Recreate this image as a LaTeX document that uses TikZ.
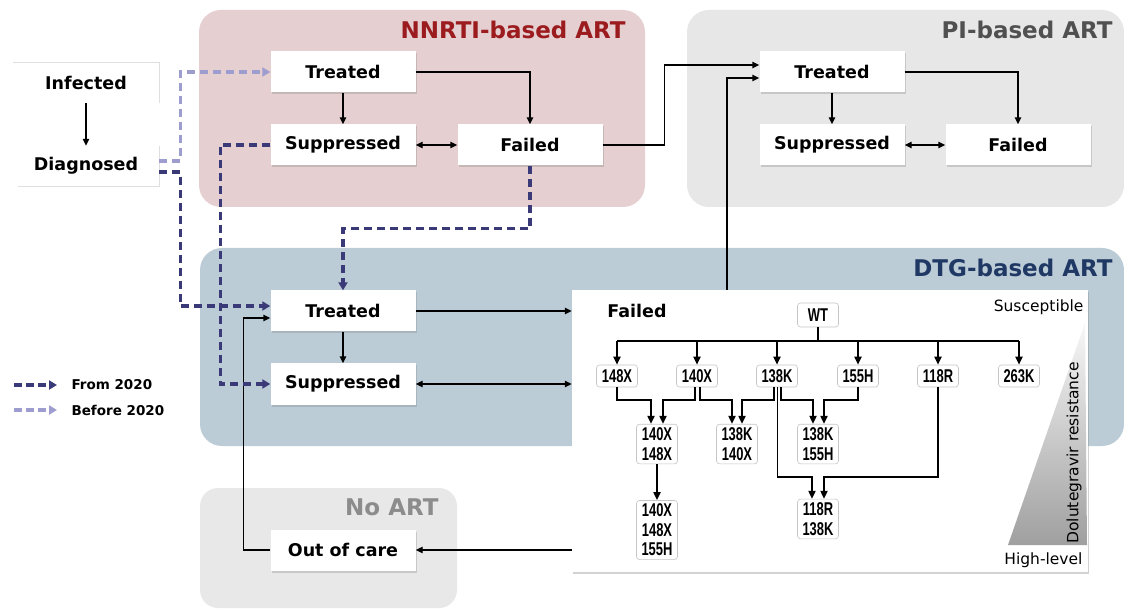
\documentclass[tikz,border=0pt]{standalone}
\usepackage{fontspec}
\setmainfont{DejaVu Sans}
\newfontfamily\condfont[FakeStretch=0.7]{Liberation Sans}
\usetikzlibrary{arrows.meta,shadows,calc}
\definecolor{nnrtibg}{HTML}{E5CFD0}
\definecolor{nnrtitx}{HTML}{9B1B1E}
\definecolor{pibg}{HTML}{E7E7E7}
\definecolor{pitx}{HTML}{505050}
\definecolor{dtgbg}{HTML}{BCCCD7}
\definecolor{dtgtx}{HTML}{1F3864}
\definecolor{noartbg}{HTML}{E8E8E8}
\definecolor{noarttx}{HTML}{8C8C8C}
\definecolor{dashdk}{HTML}{3B3A78}
\definecolor{dashlt}{HTML}{9E9DD0}
\begin{document}
\begin{tikzpicture}[x=1pt,y=-1pt,
  box/.style={fill=white, minimum width=145pt, minimum height=41pt, inner sep=0pt,
    font=\fontsize{17.5}{20}\selectfont\bfseries,
    drop shadow={opacity=0.3,shadow xshift=1pt,shadow yshift=-2pt}},
  plain/.style={minimum width=146pt, minimum height=40pt, inner sep=0pt,
    font=\fontsize{17.5}{20}\selectfont\bfseries},
  mut/.style={draw=gray!45, line width=0.6pt, fill=white, rounded corners=3pt,
    minimum width=41pt, minimum height=22pt, inner xsep=1.5pt, inner ysep=3.5pt, align=center,
    font=\condfont\bfseries\fontsize{18.5}{19.5}\selectfont},
  paneltitle/.style={anchor=east, font=\fontsize{23}{26}\selectfont\bfseries},
  arr/.style={line width=1.4pt, -{Triangle[length=7pt,width=6.5pt]}},
  darr/.style={line width=1.4pt, {Triangle[length=7pt,width=6.5pt]}-{Triangle[length=7pt,width=6.5pt]}},
  tarr/.style={line width=1.8pt, -{Triangle[length=8pt,width=7pt]}},
  tline/.style={line width=1.8pt},
  dashdark/.style={draw=dashdk, line width=3.2pt, dash pattern=on 8pt off 5pt, -{Triangle[length=8pt,width=9pt]}},
  dashlight/.style={draw=dashlt, line width=3.2pt, dash pattern=on 8pt off 5pt, -{Triangle[length=8pt,width=9pt]}},
  edge/.style={draw=gray!25, line width=1pt}
]
\useasboundingbox (0,0) rectangle (1124,609);
\fill[white] (0,0) rectangle (1124,609);

% panels
\fill[nnrtibg, rounded corners=22pt] (199,10) rectangle (645,207);
\fill[pibg, rounded corners=22pt] (687,10) rectangle (1124,207);
\fill[dtgbg, rounded corners=22pt] (200,248) rectangle (1124,446);
\fill[noartbg, rounded corners=18pt] (200,488) rectangle (457,608);

\node[paneltitle, text=nnrtitx] (tn) at (629,30) {NNRTI-based ART};
\node[paneltitle, text=pitx] (tp) at (1116,30) {PI-based ART};
\node[paneltitle, text=dtgtx] (td) at (1116,268) {DTG-based ART};
\node[paneltitle, text=noarttx] (tna) at (442,507) {No ART};

% Infected / Diagnosed
\node[plain] (inf) at (86,83) {Infected};
\node[plain] (diag) at (86,166) {Diagnosed};
\draw[edge] (inf.north west) -- (inf.north east) -- (inf.south east);
\draw[edge] (diag.north east) -- (diag.south east) -- ([xshift=5pt]diag.south west);
\draw[arr] (inf) -- (diag);

% NNRTI
\node[box] (nT) at (343,72) {Treated};
\node[box] (nS) at (343,145) {Suppressed};
\node[box] (nF) at (530,145) {Failed};
% PI
\node[box] (pT) at (832,72) {Treated};
\node[box] (pS) at (832,145) {Suppressed};
\node[box] (pF) at (1018,145) {Failed};
% DTG
\node[box] (dT) at (343,311) {Treated};
\node[box] (dS) at (343,384) {Suppressed};
% No ART
\node[box] (oc) at (343,550) {Out of care};

% big failed panel
\node[fill=white, minimum width=516pt, minimum height=282pt, inner sep=0pt,
  drop shadow={opacity=0.35,shadow xshift=1pt,shadow yshift=-2pt}] (fp) at (830,431) {};
\node[font=\fontsize{17.5}{20}\selectfont\bfseries] (fl) at (637,311) {Failed};
\node[anchor=east, font=\fontsize{15.5}{18}\selectfont] (sus) at (1087,307) {Susceptible};
\node[anchor=east, font=\fontsize{15.5}{18}\selectfont] (hl) at (1086,560) {High-level};
\shade[top color=gray!6, bottom color=gray!75] (1085,323) -- (1087,545) -- (1008,545) -- cycle;
\node[rotate=90, font=\fontsize{15.5}{18}\selectfont] (res) at (1074,453) {Dolutegravir resistance};

% mutation nodes
\node[mut, minimum height=24pt] (wt) at (818,315) {WT};
\node[mut] (m148) at (617,376) {148X};
\node[mut] (m140) at (697,376) {140X};
\node[mut] (m138) at (777,376) {138K};
\node[mut] (m155) at (858,376) {155H};
\node[mut] (m118) at (938,376) {118R};
\node[mut] (m263) at (1019,376) {263K};
\node[mut] (d140148) at (657,444) {140X\\148X};
\node[mut] (d138140) at (737,444) {138K\\140X};
\node[mut] (d138155) at (818,444) {138K\\155H};
\node[mut] (t3) at (657,530) {140X\\148X\\155H};
\node[mut] (d118138) at (818,519) {118R\\138K};

\coordinate (bus) at (818,341);
\draw[tline] (wt.south) -- (bus);
\draw[tline] (bus -| m148.north) -- (bus -| m263.north);
\foreach \m in {m148,m140,m138,m155,m118,m263}
  \draw[tarr] (bus -| \m.north) -- (\m.north);

\draw[tarr] (m148.south) -- ++(0,13) -| ([xshift=-6pt]d140148.north);
\draw[tarr] ([xshift=-2pt]m140.south) -- ++(0,13) -| ([xshift=6pt]d140148.north);
\draw[tarr] ([xshift=3pt]m140.south) -- ++(0,13) -| ([xshift=-5pt]d138140.north);
\draw[tarr] ([xshift=-3pt]m138.south) -- ++(0,13) -| ([xshift=5pt]d138140.north);
\draw[tarr] ([xshift=4pt]m138.south) -- ++(0,13) -| ([xshift=-5pt]d138155.north);
\draw[tarr] (m155.south) -- ++(0,13) -| ([xshift=6pt]d138155.north);
\draw[tarr] ([xshift=0.5pt]m138.south) -- ++(0,90) -| ([xshift=-6pt]d118138.north);
\draw[tarr] (m118.south) -- ++(0,90) -| ([xshift=6pt]d118138.north);
\draw[tarr] (d140148.south) -- (t3.north);

% NNRTI connectors
\draw[arr] (nT) -- (nS);
\draw[arr] (nT.east) -| (nF.north);
\draw[darr] (nS) -- (nF);
\draw[arr] (nF.east) -- ++(62,0) |- ([yshift=7pt]pT.west);
% PI connectors
\draw[arr] (pT) -- (pS);
\draw[arr] (pT.east) -| (pF.north);
\draw[darr] (pS) -- (pF);
% DTG connectors
\coordinate (fpt) at (727,290);
\draw[arr] (fpt) |- ([yshift=-6pt]pT.west);
\draw[arr] (dT) -- (dS);
\draw[arr] (dT.east) -- (dT.east -| fp.west);
\draw[darr] (dS.east) -- (dS.east -| fp.west);
\draw[arr] (oc.east -| fp.west) -- (oc.east);
\draw[arr] (oc.west) -- ++(-27,0) |- ([yshift=-7pt]dT.west);

% dashed transitions
\draw[dashlight] ([yshift=5pt]diag.east) -- ++(21,0) |- (nT.west);
\draw[dashdark] ([yshift=-6pt]diag.east) -- ++(21,0) |- ([yshift=5pt]dT.west);
\draw[dashdark] (nS.west) -- ++(-50,0) |- (dS.west);
\draw[dashdark] (nF.south) -- ++(0,63) -| (dT.north);

% legend
\coordinate (l1a) at (14,385);
\coordinate (l1b) at (57,385);
\coordinate (l2a) at (14,410);
\coordinate (l2b) at (57,410);
\draw[dashdark, dash pattern=on 8pt off 4pt] (l1a) -- (l1b);
\draw[dashlight, dash pattern=on 8pt off 4pt] (l2a) -- (l2b);
\node[anchor=west, font=\fontsize{13.5}{16}\selectfont\bfseries] (lg1) at (68,385) {From 2020};
\node[anchor=west, font=\fontsize{13.5}{16}\selectfont\bfseries] (lg2) at (68,410) {Before 2020};
\end{tikzpicture}
\end{document}
